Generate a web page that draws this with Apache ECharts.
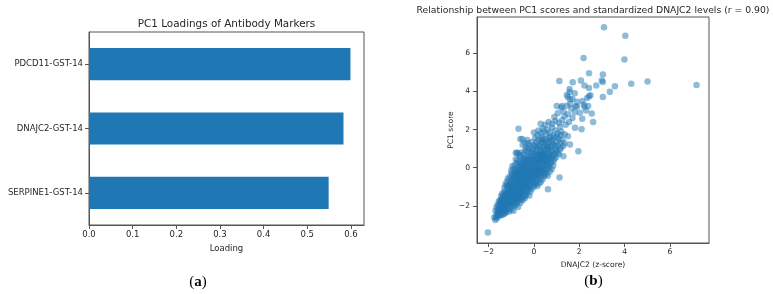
<!DOCTYPE html>
<html>
<head>
<meta charset="utf-8">
<script src="https://cdn.jsdelivr.net/npm/echarts@6/dist/echarts.min.js"></script>
<style>
  html, body { margin: 0; padding: 0; background: #fff; }
  #chart { width: 773px; height: 294px; }
</style>
</head>
<body>
<div id="chart"></div>
<script>
// panel (a): loadings
const markers = ['SERPINE1-GST-14', 'DNAJC2-GST-14', 'PDCD11-GST-14']
const loadings = [0.549, 0.583, 0.599]
const loadingTicks = [0, 0.1, 0.2, 0.3, 0.4, 0.5, 0.6]

// panel (b): DNAJC2 z-score vs PC1 score
const scoreTicks = [-2, 0, 2, 4, 6]
const outlierPoints = [
  [3.09, 7.35], [4.03, 6.91], [3.99, 5.67], [2.19, 5.75], [2.43, 4.95], [3.04, 4.88],
  [2.99, 4.56], [3.04, 4.49], [1.12, 4.54], [2.07, 4.56], [1.71, 4.47], [2.23, 4.30],
  [2.43, 4.18], [2.75, 4.30], [3.57, 4.26], [3.35, 3.98], [3.04, 3.70], [4.29, 4.39],
  [5.01, 4.51], [7.17, 4.33], [1.57, 4.12], [1.58, 3.96], [1.45, 3.81], [1.59, 3.58],
  [2.49, 3.79], [2.14, 3.49], [2.43, 3.74], [1.01, 3.23], [1.25, 3.23], [1.84, 3.21],
  [2.23, 3.19], [2.39, 3.23], [2.03, 2.88], [2.55, 2.84], [2.61, 2.40], [2.13, 2.56],
  [1.81, 2.09], [2.10, 2.02], [1.96, 0.86], [1.59, 1.21], [1.30, 0.60], [1.13, -0.51],
  [0.62, -1.12], [-0.68, 2.04], [-2.03, -3.39], [-1.64, -2.65], [-1.70, -2.74],
  [-0.80, 0.77], [-0.51, 1.51]
]
const clusterPoints = [
  [-1.75, -2.6], [-1.68, -2.55], [-1.6, -2.45], [-1.5, -2.5], [-1.45, -2.4], [-1.35, -2.45], [-1.55, -2.35],
  [-1.7, -2.25], [-1.6, -2.2], [-1.5, -2.3], [-1.4, -2.15], [-1.3, -2.25], [-1.2, -2.1], [-1.1, -2.3],
  [-1.0, -2.2], [-1.45, -2.05], [-1.55, -2.1], [-0.9, -2.25], [-1.25, -2.35],
  [-1.6, -1.95], [-1.5, -1.85], [-1.4, -2.0], [-1.3, -1.9], [-1.2, -1.95], [-1.1, -1.85], [-1.0, -2.0],
  [-0.9, -1.9], [-0.8, -1.95], [-0.7, -2.05], [-1.35, -1.8], [-1.15, -1.8], [-0.95, -1.8], [-1.45, -1.9],
  [-1.25, -2.05], [-0.6, -1.85],
  [-1.5, -1.7], [-1.4, -1.6], [-1.3, -1.75], [-1.2, -1.65], [-1.1, -1.55], [-1.0, -1.7], [-0.9, -1.6],
  [-0.8, -1.75], [-0.7, -1.65], [-0.6, -1.55], [-0.5, -1.7], [-1.25, -1.5], [-1.05, -1.5], [-0.85, -1.5],
  [-0.65, -1.45], [-1.35, -1.55], [-0.95, -1.75], [-0.4, -1.6],
  [-1.4, -1.35], [-1.3, -1.25], [-1.2, -1.4], [-1.1, -1.3], [-1.0, -1.2], [-0.9, -1.4], [-0.8, -1.3],
  [-0.7, -1.2], [-0.6, -1.35], [-0.5, -1.25], [-0.4, -1.4], [-0.3, -1.3], [-1.15, -1.2], [-0.95, -1.3],
  [-0.75, -1.45], [-0.55, -1.15], [-0.2, -1.45], [-1.25, -1.45],
  [-1.3, -1.05], [-1.2, -0.95], [-1.1, -1.1], [-1.0, -1.0], [-0.9, -0.9], [-0.8, -1.05], [-0.7, -0.95],
  [-0.6, -1.1], [-0.5, -1.0], [-0.4, -0.9], [-0.3, -1.05], [-0.2, -0.95], [-0.1, -1.1], [0.0, -1.0],
  [-0.85, -1.15], [-0.45, -1.15], [-0.65, -0.85], [-1.05, -0.85], [0.15, -0.95],
  [-1.2, -0.75], [-1.1, -0.65], [-1.0, -0.8], [-0.9, -0.7], [-0.8, -0.6], [-0.7, -0.75], [-0.6, -0.65],
  [-0.5, -0.8], [-0.4, -0.7], [-0.3, -0.6], [-0.2, -0.75], [-0.1, -0.65], [0.0, -0.8], [0.1, -0.7],
  [0.2, -0.6], [-0.55, -0.55], [-0.35, -0.85], [-0.15, -0.55], [0.3, -0.75], [-0.95, -0.55],
  [-1.05, -0.45], [-0.95, -0.35], [-0.85, -0.5], [-0.75, -0.4], [-0.65, -0.3], [-0.55, -0.45], [-0.45, -0.35],
  [-0.35, -0.5], [-0.25, -0.4], [-0.15, -0.3], [-0.05, -0.45], [0.05, -0.35], [0.15, -0.5], [0.25, -0.4],
  [0.35, -0.3], [0.45, -0.45], [-0.6, -0.2], [0.0, -0.2], [0.55, -0.3],
  [-1.0, -0.15], [-0.9, -0.05], [-0.8, -0.2], [-0.7, -0.1], [-0.6, 0.0], [-0.5, -0.15], [-0.4, -0.05],
  [-0.3, -0.2], [-0.2, -0.1], [-0.1, 0.0], [0.0, -0.15], [0.1, -0.05], [0.2, -0.2], [0.3, -0.1],
  [0.4, 0.0], [0.5, -0.15], [0.6, -0.05], [-0.35, 0.05], [0.15, 0.05], [0.7, -0.2],
  [-0.85, 0.15], [-0.75, 0.25], [-0.65, 0.1], [-0.55, 0.2], [-0.45, 0.3], [-0.35, 0.15], [-0.25, 0.25],
  [-0.15, 0.1], [-0.05, 0.2], [0.05, 0.3], [0.15, 0.15], [0.25, 0.25], [0.35, 0.1], [0.45, 0.2],
  [0.55, 0.3], [0.65, 0.15], [0.75, 0.25], [-0.1, 0.35], [0.3, 0.4], [0.85, 0.1],
  [-0.8, 0.45], [-0.6, 0.55], [-0.5, 0.4], [-0.4, 0.5], [-0.3, 0.6], [-0.2, 0.45], [-0.1, 0.55],
  [0.0, 0.4], [0.1, 0.5], [0.2, 0.6], [0.3, 0.55], [0.4, 0.45], [0.5, 0.6], [0.6, 0.4],
  [0.7, 0.5], [0.8, 0.6], [0.9, 0.45], [0.05, 0.65], [0.45, 0.7], [-0.7, 0.75], [-0.75, 0.8],
  [-0.55, 0.8], [-0.45, 0.7], [-0.3, 0.85], [-0.2, 0.75], [-0.05, 0.9], [0.1, 0.8], [0.2, 0.7],
  [0.3, 0.85], [0.4, 0.75], [0.5, 0.9], [0.6, 0.8], [0.7, 0.7], [0.8, 0.85], [0.9, 0.75],
  [1.0, 0.9], [0.25, 0.95], [0.65, 1.0], [1.1, 0.7],
  [-0.5, 1.2], [-0.35, 1.05], [-0.2, 1.15], [-0.05, 1.0], [0.05, 1.2], [0.15, 1.1], [0.3, 1.25],
  [0.4, 1.05], [0.5, 1.15], [0.6, 1.25], [0.75, 1.1], [0.85, 1.2], [0.95, 1.0], [1.05, 1.15],
  [1.2, 1.05], [0.35, 1.35], [0.7, 1.4], [-0.4, 1.3],
  [-0.6, 1.5], [-0.3, 1.45], [-0.1, 1.35], [0.05, 1.55], [0.2, 1.45], [0.35, 1.6], [0.45, 1.5],
  [0.55, 1.4], [0.65, 1.55], [0.8, 1.45], [0.9, 1.6], [1.0, 1.35], [1.1, 1.5], [1.25, 1.45],
  [1.35, 1.3], [0.15, 1.7], [0.55, 1.75],
  [0.0, 1.85], [0.2, 1.95], [0.3, 1.8], [0.45, 1.9], [0.6, 2.0], [0.7, 1.85], [0.85, 1.7],
  [0.95, 1.95], [1.05, 1.8], [1.2, 1.9], [1.35, 1.75], [1.5, 1.65], [0.4, 2.05], [0.8, 2.1], [1.15, 2.15],
  [0.3, 2.3], [0.5, 2.25], [0.65, 2.4], [0.8, 2.3], [0.95, 2.45], [1.1, 2.35], [1.25, 2.5],
  [1.4, 2.25], [1.55, 2.4], [1.7, 2.6], [1.35, 2.7], [0.9, 2.65],
  [1.05, 2.85], [1.3, 2.95], [1.5, 2.8], [1.65, 3.1], [1.8, 2.9], [1.45, 3.25], [1.9, 3.2],
  [2.3, 3.0], [1.2, 3.15],
  [1.6, 3.35], [1.7, 3.6], [1.9, 3.45], [2.2, 3.3], [2.35, 3.65], [1.5, 3.7], [1.8, 3.9]
]
// second and third passes over the dense core
const corePoints = [
  [-1.62, -2.38], [-1.42, -2.28], [-1.32, -2.12], [-1.18, -2.22], [-1.52, -2.18], [-1.65, -2.05], [-1.08, -2.12],
  [-1.55, -1.78], [-1.45, -1.72], [-1.28, -1.82], [-1.12, -1.92], [-1.02, -1.88], [-0.88, -2.02], [-0.75, -1.85],
  [-0.65, -1.72], [-1.38, -1.68], [-1.18, -1.72], [-0.55, -1.62], [-0.98, -1.62],
  [-1.45, -1.48], [-1.32, -1.38], [-1.15, -1.52], [-1.02, -1.42], [-0.88, -1.22], [-0.72, -1.32], [-0.62, -1.48],
  [-0.45, -1.52], [-0.35, -1.45], [-0.28, -1.18], [-0.52, -1.38], [-0.82, -1.58], [-1.08, -1.25], [-0.15, -1.25],
  [-1.25, -0.88], [-1.15, -1.02], [-0.95, -0.98], [-0.78, -0.88], [-0.62, -0.95], [-0.48, -0.88], [-0.35, -0.98],
  [-0.22, -1.08], [-0.05, -0.92], [0.08, -0.85], [-0.88, -0.78], [-0.72, -0.68], [-0.42, -0.62], [-0.25, -0.68],
  [-0.05, -0.72], [0.22, -0.82], [0.38, -0.62], [-1.15, -0.55],
  [-0.98, -0.28], [-0.88, -0.42], [-0.72, -0.52], [-0.58, -0.38], [-0.48, -0.25], [-0.38, -0.42], [-0.22, -0.52],
  [-0.08, -0.38], [0.08, -0.48], [0.18, -0.32], [0.32, -0.48], [0.48, -0.35], [0.62, -0.42], [-0.78, -0.28],
  [-0.28, -0.28], [0.12, -0.25], [0.42, -0.22],
  [-0.95, 0.08], [-0.82, -0.08], [-0.68, 0.05], [-0.52, 0.08], [-0.42, -0.12], [-0.25, 0.02], [-0.12, -0.08],
  [0.02, 0.08], [0.18, -0.12], [0.28, 0.05], [0.45, -0.08], [0.55, 0.08], [0.68, 0.02], [0.78, -0.08],
  [-0.58, -0.25], [0.08, -0.28],
  [-0.72, 0.38], [-0.62, 0.28], [-0.45, 0.48], [-0.35, 0.38], [-0.22, 0.32], [-0.08, 0.45], [0.08, 0.38],
  [0.22, 0.32], [0.35, 0.48], [0.52, 0.35], [0.62, 0.52], [0.75, 0.38], [0.85, 0.32], [0.98, 0.55],
  [-0.15, 0.62], [0.28, 0.68],
  [-0.62, 0.65], [-0.38, 0.92], [-0.12, 0.82], [0.02, 0.72], [0.15, 0.95], [0.35, 0.72], [0.45, 0.95],
  [0.55, 0.68], [0.75, 0.92], [0.88, 0.65], [1.05, 0.78], [1.15, 0.95], [-0.25, 1.02], [0.62, 1.08],
  [-0.25, 1.28], [0.0, 1.15], [0.12, 1.35], [0.25, 1.12], [0.45, 1.32], [0.58, 1.08], [0.82, 1.32],
  [0.92, 1.15], [1.15, 1.28], [1.3, 1.15], [0.35, 1.48], [0.72, 1.6], [1.02, 1.62], [1.18, 1.7],
  [-1.58, -2.28], [-1.48, -2.15], [-1.38, -2.32], [-1.28, -2.18], [-1.35, -2.02], [-1.22, -1.88], [-1.32, -1.62],
  [-1.42, -1.82], [-1.52, -1.98], [-1.05, -1.78], [-0.92, -1.72], [-1.15, -1.62], [-1.22, -1.32], [-1.12, -1.42],
  [-0.98, -1.52], [-0.85, -1.42], [-0.78, -1.62], [-0.68, -1.52], [-0.92, -1.18], [-0.82, -1.12], [-0.68, -1.08],
  [-0.58, -1.22], [-0.48, -1.08], [-0.38, -1.18], [-0.75, -1.35], [-1.02, -1.08], [-1.12, -0.92], [-0.98, -0.72],
  [-0.85, -0.95], [-0.75, -0.82], [-0.55, -0.72], [-0.45, -0.95], [-0.32, -0.82], [-0.18, -0.85], [-0.65, -0.58],
  [-0.38, -0.55], [-0.12, -0.5], [0.02, -0.58], [-0.82, -0.35], [-0.68, -0.45], [-0.52, -0.58], [-0.42, -0.48],
  [-0.32, -0.35], [-0.18, -0.42], [-0.02, -0.28], [0.22, -0.12], [-0.72, -0.22], [-0.48, -0.05], [-0.32, -0.08],
  [-0.15, -0.22], [0.05, -0.05], [0.32, -0.22], [-0.55, 0.12], [-0.32, 0.28], [-0.08, 0.12], [0.12, 0.22],
  [0.38, 0.25], [0.58, 0.18], [-0.4, 0.22], [0.18, 0.42], [-0.28, 0.45], [0.45, 0.38], [0.68, 0.62],
  [0.35, 0.62], [0.12, 0.62], [-1.42, -2.48], [-1.58, -2.55], [-1.28, -2.38]
]

const textColor = '#262626'
const frameColor = '#555'
const font = 'DejaVu Sans'

function minusFmt(v) {
  return v < 0 ? '\u2212' + Math.abs(v) : String(v)
}

const panelRich = {
  p: {fontFamily: 'Liberation Serif', fontSize: 15, fill: '#000'},
  l: {fontFamily: 'Liberation Serif', fontSize: 15, fontWeight: 'bold', fill: '#000'}
}

function label(x, y, text, size, rich) {
  return {
    type: 'text', x: x, y: y, silent: true,
    style: {
      text: text, fontFamily: font, fontSize: size, fill: textColor,
      align: 'center', verticalAlign: 'middle', rich: rich
    }
  }
}

const chart = echarts.init(document.getElementById('chart'), null, {renderer: 'canvas'})
const option = {
  animation: false,
  backgroundColor: '#fff',
  textStyle: {fontFamily: font, color: textColor},
  graphic: [
    label(226.5, 24, 'PC1 Loadings of Antibody Markers', 10.4),
    label(593, 11, 'Relationship between PC1 scores and standardized DNAJC2 levels (r = 0.90)', 9.25),
    label(198, 282, '{p|(}{l|a}{p|)}', 15, panelRich),
    label(593.5, 281, '{p|(}{l|b}{p|)}', 15, panelRich)
  ],
  grid: [
    {left: 89, top: 32, width: 275, height: 193, show: true, borderColor: frameColor, borderWidth: 1, backgroundColor: 'transparent'},
    {left: 477, top: 17, width: 232, height: 226, show: true, borderColor: frameColor, borderWidth: 1, backgroundColor: 'transparent'}
  ],
  xAxis: [
    {
      gridIndex: 0, type: 'value', min: 0, max: 0.63,
      name: 'Loading', nameLocation: 'middle', nameGap: 18,
      nameTextStyle: {fontFamily: font, fontSize: 8.5, color: textColor},
      axisLine: {show: true, onZero: false, lineStyle: {color: frameColor}},
      axisTick: {show: true, length: 4, lineStyle: {color: frameColor}, customValues: loadingTicks},
      axisLabel: {fontSize: 8.5, color: textColor, margin: 5, customValues: loadingTicks, formatter: v => v.toFixed(1)},
      splitLine: {show: false}
    },
    {
      gridIndex: 1, type: 'value', min: -2.51, max: 7.72,
      name: 'DNAJC2 (z-score)', nameLocation: 'middle', nameGap: 14,
      nameTextStyle: {fontFamily: font, fontSize: 7.6, color: textColor},
      axisLine: {show: true, onZero: false, lineStyle: {color: frameColor}},
      axisTick: {show: true, length: 4, lineStyle: {color: frameColor}, customValues: scoreTicks},
      axisLabel: {fontSize: 7.6, color: textColor, margin: 5, customValues: scoreTicks, formatter: minusFmt},
      splitLine: {show: false}
    }
  ],
  yAxis: [
    {
      gridIndex: 0, type: 'category', data: markers,
      axisLine: {show: true, onZero: false, lineStyle: {color: frameColor}},
      axisTick: {show: true, length: 4, alignWithLabel: true, lineStyle: {color: frameColor}},
      axisLabel: {fontSize: 8.5, color: textColor, margin: 6}
    },
    {
      gridIndex: 1, type: 'value', min: -3.94, max: 7.89,
      name: 'PC1 score', nameLocation: 'middle', nameGap: 20,
      nameTextStyle: {fontFamily: font, fontSize: 7.6, color: textColor},
      axisLine: {show: true, onZero: false, lineStyle: {color: frameColor}},
      axisTick: {show: true, length: 4, lineStyle: {color: frameColor}, customValues: scoreTicks},
      axisLabel: {fontSize: 7.6, color: textColor, margin: 7, customValues: scoreTicks, formatter: minusFmt},
      splitLine: {show: false}
    }
  ],
  series: [
    {
      type: 'bar', xAxisIndex: 0, yAxisIndex: 0,
      data: loadings, barWidth: '50%',
      itemStyle: {color: '#1f77b4'}
    },
    {
      type: 'scatter', xAxisIndex: 1, yAxisIndex: 1,
      data: clusterPoints.concat(corePoints, outlierPoints),
      symbolSize: 6.5,
      itemStyle: {color: '#1f77b4', opacity: 0.5}
    }
  ]
}
chart.setOption(option)
</script>
</body>
</html>
